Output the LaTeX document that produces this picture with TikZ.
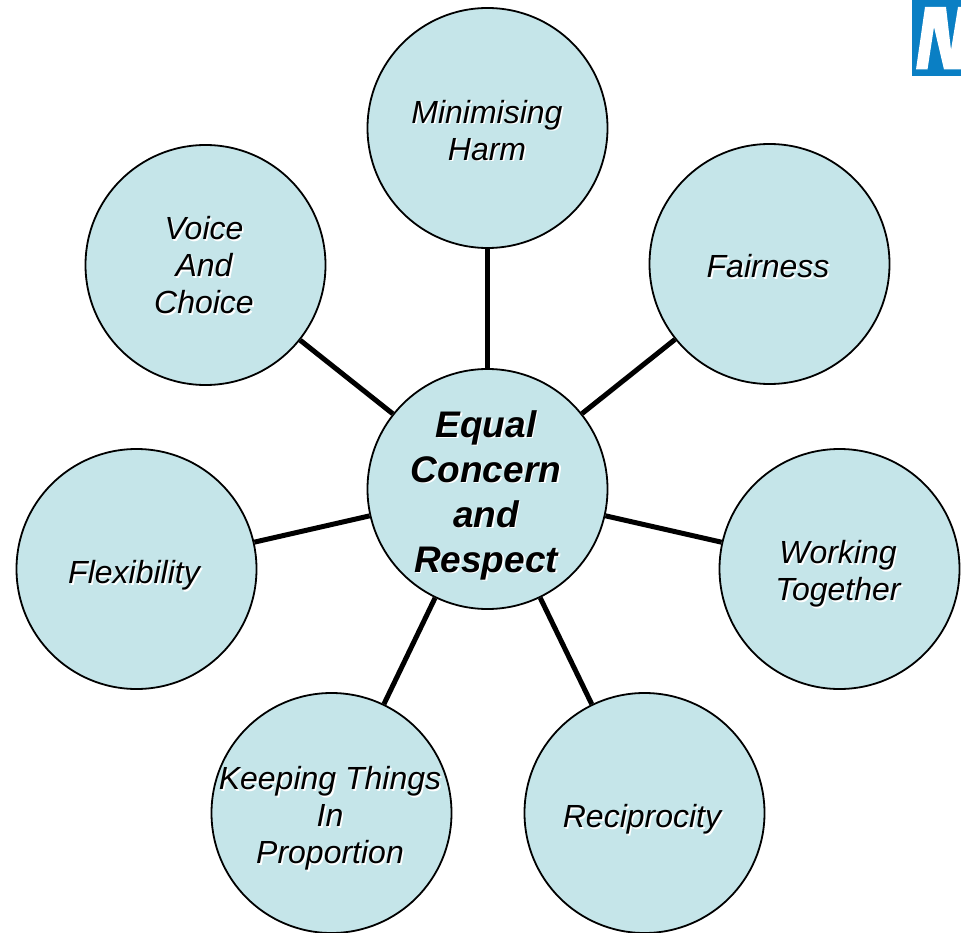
\documentclass[tikz,border=0pt]{standalone}
\usepackage{fontspec}
\setmainfont{Liberation Sans}
\usetikzlibrary{backgrounds}
\definecolor{discfill}{HTML}{C5E5E9}
\definecolor{logoblue}{HTML}{0A7FC4}
\newcommand{\shd}[1]{\makebox[0pt][l]{\kern1.6pt\raisebox{-1.6pt}{\textcolor{white}{#1}}}#1}
\tikzset{
  disc/.style={circle,draw=black,line width=1.8pt,fill=discfill,minimum size=240pt,inner sep=0pt},
  lbl/.style={inner sep=0pt,align=center,font=\fontsize{32}{37}\selectfont\itshape},
  hublbl/.style={lbl,font=\fontsize{37}{45}\selectfont\itshape\bfseries},
  spoke/.style={line width=5pt,black}
}
\begin{document}
\begin{tikzpicture}[x=1pt,y=-1pt]
\useasboundingbox (0,0) rectangle (961,933);
\fill[logoblue] (912,0) rectangle (961,76.5);
\fill[white] (916,69.5) -- (925,7) -- (946,7) -- (951,50) -- (958,7) -- (961,7) -- (961,69.5) -- (944,69.5) -- (934,27) -- (927.5,69.5) -- cycle;
\node[disc] (c) at (487.5,489) {};
\node[disc] (a) at (487.5,128) {};
\node[disc] (b) at (769.5,264) {};
\node[disc] (d) at (839.5,569) {};
\node[disc] (e) at (644.5,813) {};
\node[disc] (f) at (331.5,813) {};
\node[disc] (g) at (136.5,569) {};
\node[disc] (h) at (205.5,265) {};
\node[hublbl] (ct) at (486,496) {\shd{Equal}\\\shd{Concern}\\\shd{and}\\\shd{Respect}};
\node[lbl] (at) at (487,131) {\shd{Minimising}\\\shd{Harm}};
\node[lbl] (bt) at (768,267) {\shd{Fairness}};
\node[lbl] (dt) at (838,575) {\shd{Working}\\\shd{Together}};
\node[lbl] (et) at (642,820) {\shd{Reciprocity}};
\node[lbl] (ft) at (330,819) {\shd{Keeping Things}\\\shd{In}\\\shd{Proportion}};
\node[lbl] (gt) at (134,576) {\shd{Flexibility}};
\node[lbl] (ht) at (204,266) {\shd{Voice}\\\shd{And}\\\shd{Choice}};
\begin{scope}[on background layer]
\foreach \t in {a,b,d,e,f,g,h} \draw[spoke] (c) -- (\t);
\end{scope}
\end{tikzpicture}
\end{document}
